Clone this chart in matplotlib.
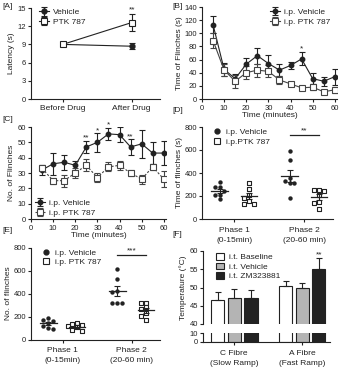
import numpy as np
import matplotlib.pyplot as plt
from matplotlib.patches import Patch
from matplotlib.lines import Line2D

plt.rcParams['font.family'] = ['Liberation Sans', 'DejaVu Sans']
plt.rcParams['font.size'] = 6
plt.rcParams['text.color'] = '#222222'
plt.rcParams['axes.labelcolor'] = '#222222'
plt.rcParams['xtick.color'] = '#222222'
plt.rcParams['ytick.color'] = '#222222'
plt.rcParams['axes.edgecolor'] = '#222222'
plt.rcParams['axes.linewidth'] = 0.8
plt.rcParams['xtick.major.size'] = 2.5
plt.rcParams['ytick.major.size'] = 2.5
plt.rcParams['xtick.major.width'] = 0.8
plt.rcParams['ytick.major.width'] = 0.8
plt.rcParams['xtick.labelsize'] = 5.5
plt.rcParams['ytick.labelsize'] = 5.5
plt.rcParams['xtick.major.pad'] = 1.5
plt.rcParams['ytick.major.pad'] = 1.0

# ---- data ----
a_groups = ["Before Drug", "After Drug"]
a_veh = [9.0, 8.7]
a_veh_err = [0.3, 0.5]
a_ptk = [9.0, 12.6]
a_ptk_err = [0.3, 1.4]

b_time = [5, 10, 15, 20, 25, 30, 35, 40, 45, 50, 55, 60]
b_veh = [113, 45, 31, 53, 66, 54, 44, 51, 61, 31, 27, 34]
b_veh_err = [13, 10, 7, 10, 12, 13, 9, 6, 10, 8, 7, 12]
b_ptk = [89, 44, 27, 40, 44, 42, 29, 23, 17, 18, 11, 14]
b_ptk_err = [11, 9, 10, 10, 10, 9, 6, 3, 2, 5, 3, 5]

c_time = [5, 10, 15, 20, 25, 30, 35, 40, 45, 50, 55, 60]
c_veh = [32, 36, 37, 35, 47, 50, 55.5, 55, 47, 49, 43, 43]
c_veh_err = [3, 7, 5, 3, 4, 6, 4, 5, 5, 9, 7, 8]
c_ptk = [33, 25, 25, 30, 35, 27, 34, 35, 30, 26, 34, 26]
c_ptk_err = [2, 2, 4, 3, 4, 3, 3, 3, 2, 3, 2, 5]
c_stars = {25: "**", 30: "*", 35: "*", 45: "**"}

phase_labels = ["Phase 1\n(0-15min)", "Phase 2\n(20-60 min)"]
d_veh = [[320, 280, 275, 245, 210, 205, 170], [590, 515, 355, 330, 310, 310, 180]]
d_ptk = [[315, 265, 210, 180, 160, 130, 130], [255, 250, 240, 210, 150, 140, 85]]
e_veh = [[190, 170, 160, 140, 120, 100, 95], [610, 530, 420, 410, 320, 320, 320]]
e_ptk = [[145, 135, 130, 115, 105, 85, 75], [320, 315, 280, 265, 230, 205, 170]]

f_groups = ["C Fibre\n(Slow Ramp)", "A Fibre\n(Fast Ramp)"]
f_names = ["i.t. Baseline", "i.t. Vehicle", "i.t. ZM323881"]
f_vals = [[46.5, 50.5], [47.0, 50.0], [47.0, 55.0]]
f_errs = [[2.2, 1.2], [2.5, 1.2], [2.2, 3.0]]
f_colors = ["white", "#b4b4b4", "#222222"]

W, H = 342, 368
fig = plt.figure(figsize=(W / 100, H / 100), dpi=100)
DARK = '#222222'


def px_axes(l, t, r, b):
    ax = fig.add_axes([l / W, 1 - b / H, (r - l) / W, (b - t) / H])
    ax.spines['top'].set_visible(False)
    ax.spines['right'].set_visible(False)
    return ax


ekw = dict(elinewidth=0.8, capsize=2, capthick=0.8, lw=0.8)

# ---- A ----
ax = px_axes(31, 8, 160, 99)
x = np.arange(len(a_groups))
ax.errorbar(x, a_veh, yerr=a_veh_err, color=DARK, marker='o', ms=3.5, **ekw, label="Vehicle")
ax.errorbar(x, a_ptk, yerr=a_ptk_err, color=DARK, marker='s', ms=5, mfc='white', mew=0.8, **ekw, label="PTK 787")
ax.text(1, a_ptk[1] + a_ptk_err[1] + 0.4, "**", ha='center', fontsize=6)
ax.set_xlim(-0.46, 1.41)
ax.set_ylim(0, 15)
ax.set_yticks([0, 3, 6, 9, 12, 15])
ax.set_xticks(x)
ax.set_xticklabels(a_groups, fontsize=6)
ax.set_ylabel("Latency (s)", fontsize=6, labelpad=2)
ax.legend(loc='upper left', frameon=False, fontsize=6, handlelength=1.2, handletextpad=0.5,
          borderaxespad=0.1, labelspacing=0.2, bbox_to_anchor=(0.03, 1.04))

# ---- B ----
ax = px_axes(202, 7, 337, 99)
ax.errorbar(b_time, b_veh, yerr=b_veh_err, color=DARK, marker='o', ms=3.2, **ekw, label="i.p. Vehicle")
ax.errorbar(b_time, b_ptk, yerr=b_ptk_err, color='#444444', marker='s', ms=4.2, mfc='white', mew=0.8, **ekw, label="i.p. PTK 787")
ax.text(45, b_veh[8] + b_veh_err[8] + 3, "*", ha='center', fontsize=6)
ax.set_xlim(0, 61)
ax.set_ylim(0, 140)
ax.set_xticks(range(0, 61, 10))
ax.set_yticks(range(0, 141, 20))
ax.set_xlabel("Time (minutes)", fontsize=6, labelpad=0)
ax.set_ylabel("Time of Flinches (s)", fontsize=6, labelpad=1)
ax.legend(loc='upper right', frameon=False, fontsize=6, handlelength=1.2, handletextpad=0.5,
          borderaxespad=0.1, labelspacing=0.2, bbox_to_anchor=(0.98, 1.03))

# ---- C ----
ax = px_axes(31, 127, 166, 219)
ax.errorbar(c_time, c_veh, yerr=c_veh_err, color=DARK, marker='o', ms=3.2, **ekw, label="i.p. Vehicle")
ax.errorbar(c_time, c_ptk, yerr=c_ptk_err, color='#444444', marker='s', ms=4.2, mfc='white', mew=0.8,
            ls=(0, (2, 1.5)), elinewidth=0.8, capsize=2, capthick=0.8, lw=0.8, label="i.p. PTK 787")
for t, s in c_stars.items():
    i = c_time.index(t)
    ax.text(t, c_veh[i] + c_veh_err[i] + 0.8, s, ha='center', fontsize=6)
ax.set_xlim(0, 61)
ax.set_ylim(0, 60)
ax.set_xticks(range(0, 61, 10))
ax.set_yticks(range(0, 61, 10))
ax.set_xlabel("Time (minutes)", fontsize=6, labelpad=0)
ax.set_ylabel("No. of Flinches", fontsize=6, labelpad=2)
ax.legend(loc='lower left', frameon=False, fontsize=6, handlelength=1.2, handletextpad=0.5,
          borderaxespad=0.1, labelspacing=0.2, bbox_to_anchor=(0.0, -0.02))


def swarm(vals, thresh, step):
    # simple beeswarm: spread points that would overlap at the same x
    order = np.argsort(vals)[::-1]
    placed = []
    offs = np.zeros(len(vals))
    for i in order:
        for k in [0, -1, 1, -2, 2, -3, 3]:
            if all(not (abs(pk - k) < 1 and abs(vals[i] - pv) < thresh) for pv, pk in placed):
                offs[i] = k * step
                placed.append((vals[i], k))
                break
    return offs


def scatter_panel(ax, veh, ptk, ymax, thresh, sig):
    for g in range(2):
        for data, dx, mk in [(veh[g], -0.21, 'o'), (ptk[g], 0.21, 's')]:
            v = np.array(data, float)
            xs = g + dx + swarm(v, thresh, 0.07)
            if mk == 'o':
                ax.scatter(xs, v, s=10, marker='o', color=DARK, linewidths=0, zorder=3)
            else:
                ax.scatter(xs, v, s=12, marker='s', facecolor='white', edgecolor=DARK, linewidths=0.8, zorder=3)
            m = v.mean()
            sem = v.std(ddof=1) / np.sqrt(len(v))
            ax.plot([g + dx - 0.12, g + dx + 0.12], [m, m], color=DARK, lw=0.9, zorder=4)
            ax.errorbar([g + dx], [m], yerr=[sem], color=DARK, lw=0, elinewidth=0.8, capsize=2.5,
                        capthick=0.8, zorder=4)
    ax.plot([1 - 0.21, 1 + 0.21], [ymax * 0.915, ymax * 0.915], color=DARK, lw=0.9)
    ax.text(1, ymax * 0.92, sig, ha='center', va='bottom', fontsize=6)
    ax.set_xlim(-0.46, 1.41)
    ax.set_ylim(0, ymax)
    ax.set_yticks(range(0, ymax + 1, 200))
    ax.set_xticks([0, 1])
    ax.set_xticklabels(phase_labels, fontsize=6, linespacing=1.6)
    ax.tick_params(axis='x', pad=3)
    h = [Line2D([], [], ls='none', marker='o', ms=3.5, color=DARK),
         Line2D([], [], ls='none', marker='s', ms=4.2, mfc='white', mec=DARK, mew=0.8)]
    return h


# ---- D ----
ax = px_axes(202, 127, 333, 219)
h = scatter_panel(ax, d_veh, d_ptk, 800, 40, "**")
ax.set_ylabel("Time of flinches (s)", fontsize=6, labelpad=1)
ax.legend(h, ["i.p. Vehicle", "i.p.PTK 787"], loc='upper left', frameon=False, fontsize=6,
          handlelength=1.0, handletextpad=0.6, borderaxespad=0.1, labelspacing=0.2,
          bbox_to_anchor=(0.05, 1.03))

# ---- E ----
ax = px_axes(31, 247.5, 160, 339.5)
h = scatter_panel(ax, e_veh, e_ptk, 800, 40, "***")
ax.set_ylabel("No. of flinches", fontsize=6, labelpad=1)
ax.legend(h, ["i.p. Vehicle", "i.p. PTK 787"], loc='upper left', frameon=False, fontsize=6,
          handlelength=1.0, handletextpad=0.6, borderaxespad=0.1, labelspacing=0.2,
          bbox_to_anchor=(0.05, 1.03))

# ---- F (broken axis) ----
ax_top = px_axes(203, 251, 330, 324)
ax_bot = px_axes(203, 333, 330, 342)
ax_top.spines['bottom'].set_visible(False)
ax_top.tick_params(axis='x', bottom=False, labelbottom=False)
xg = np.arange(len(f_groups))
bw = 0.195
for i in range(3):
    xs = xg + (i - 1) * 0.245
    for a in (ax_top, ax_bot):
        a.bar(xs, f_vals[i], width=bw, color=f_colors[i], edgecolor=DARK, linewidth=0.8, zorder=2)
    ax_top.errorbar(xs, f_vals[i], yerr=[[0, 0], f_errs[i]], color=DARK, lw=0, elinewidth=0.8,
                    capsize=2, capthick=0.8, zorder=3)
ax_top.text(1 + 0.245, f_vals[2][1] + f_errs[2][1] + 0.4, "**", ha='center', fontsize=6)
for a in (ax_top, ax_bot):
    a.set_xlim(-0.46, 1.41)
ax_top.set_ylim(40, 60)
ax_top.set_yticks([40, 45, 50, 55, 60])
ax_bot.set_ylim(0, 10)
ax_bot.set_yticks([0, 10])
ax_bot.set_xticks(xg)
ax_bot.set_xticklabels(f_groups, fontsize=6, linespacing=1.6)
ax_bot.tick_params(axis='x', pad=3)
ax_top.set_ylabel("Temperature (\u00b0C)", fontsize=6, labelpad=2)
hp = [Patch(facecolor=c, edgecolor=DARK, linewidth=0.8) for c in f_colors]
ax_top.legend(hp, f_names, loc='upper left', frameon=False, fontsize=6, handlelength=0.9,
              handleheight=0.9, handletextpad=0.6, borderaxespad=0.1, labelspacing=0.15,
              bbox_to_anchor=(0.07, 1.03))

# ---- panel letters ----
for lbl, xx, yy in [("[A]", 2, 6), ("[B]", 172, 6), ("[C]", 2, 119), ("[D]", 172, 111),
                    ("[E]", 2, 230), ("[F]", 172, 234)]:
    fig.text(xx / W, 1 - yy / H, lbl, fontsize=6, va='center', ha='left')

fig.savefig("out.png", dpi=100)
